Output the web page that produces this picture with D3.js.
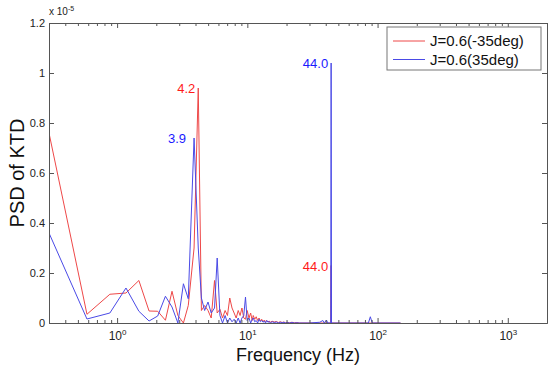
<!DOCTYPE html>
<html>
<head>
<meta charset="utf-8">
<script src="https://cdn.jsdelivr.net/npm/d3@7"></script>
<style>
  body { margin: 0; background: #fff; }
  text { font-family: "Liberation Sans", Arial, sans-serif; }
</style>
</head>
<body>
<div id="chart"></div>
<script>
// frequency bins (Hz) shared by both series
const freqs = [0.3, 0.587, 0.88, 1.17, 1.47, 1.76, 2.05, 2.35, 2.64, 2.93, 3.23, 3.52, 3.9, 4.2,
  4.44, 4.7, 4.99, 5.28, 5.6, 5.87, 6.16, 6.45, 6.75, 7.04, 7.33, 7.63, 7.92, 8.21, 8.51, 8.8,
  9.09, 9.39, 9.68, 9.97, 10.3, 10.6, 10.9, 11.1, 11.4, 11.7, 12.0, 12.3, 12.6, 12.9, 13.2, 13.5,
  13.8, 14.1, 14.4, 14.7, 15.0, 15.5, 16.1, 16.7, 17.3, 17.9, 18.5, 19.1, 19.6, 20.2, 21.1, 22.0,
  23.0, 24.0, 25.0, 30, 36, 38, 39, 40.5, 41.5, 43.7, 44.0, 44.3, 60, 85, 88, 91, 150]

// PSD values, x 1e-5
const psdNeg35 = [0.76, 0.035, 0.115, 0.12, 0.17, 0.048, 0.047, 0.011, 0.127, 0.03, 0.0, 0.07, 0.3, 0.94,
  0.05, 0.07, 0.05, 0.02, 0.17, 0.04, 0.055, 0.02, 0.05, 0.03, 0.1, 0.06, 0.04, 0.02, 0.05, 0.03,
  0.06, 0.02, 0.015, 0.05, 0.02, 0.04, 0.01, 0.03, 0.015, 0.025, 0.01, 0.02, 0.008, 0.015, 0.005, 0.012,
  0.006, 0.01, 0.004, 0.008, 0.003, 0.007, 0.004, 0.006, 0.002, 0.005, 0.002, 0.004, 0.001, 0.003, 0.001, 0.003,
  0.001, 0.002, 0, 0, 0, 0, 0, 0, 0, 0, 0.23, 0, 0, 0, 0, 0, 0]

const psdPos35 = [0.36, 0.016, 0.04, 0.14, 0.047, 0.008, 0.028, 0.107, 0.064, 0.0, 0.157, 0.097, 0.74, 0.3,
  0.1, 0.05, 0.084, 0.04, 0.06, 0.26, 0.03, 0.0, 0.03, 0.0, 0.02, 0.005, 0.015, 0.0, 0.02, 0.0,
  0.02, 0.03, 0.104, 0.01, 0.02, 0.0, 0.015, 0.02, 0.005, 0.01, 0.0, 0.015, 0.005, 0.01, 0.003, 0.008,
  0.0, 0.01, 0.003, 0.006, 0.0, 0.005, 0.002, 0.004, 0.0, 0.003, 0.001, 0.003, 0.0, 0.002, 0.0, 0.002,
  0.0, 0.001, 0, 0, 0.003, 0.01, 0, 0.012, 0, 0, 1.04, 0, 0, 0, 0.025, 0, 0]

const seriesNames = ['J=0.6(-35deg)', 'J=0.6(35deg)']
const seriesColors = ['#ee4848', '#4a4ae6']
const labelColors = ['#ff1a1a', '#1a1aff']

// peak annotations
const peakSeries = [0, 1, 1, 0]
const peakFreqs = [4.2, 3.9, 44.0, 44.0]
const peakVals = [0.94, 0.74, 1.04, 0.23]
const peakTexts = ['4.2', '3.9', '44.0', '44.0']

const yTicks = [0, 0.2, 0.4, 0.6, 0.8, 1, 1.2]
const xTicks = [1, 10, 100, 1000]

const dimensions = {
  width: 550,
  height: 366,
  margin: { top: 23, bottom: 43, right: 3, left: 49 }
}
dimensions.ctrWidth = dimensions.width - dimensions.margin.left - dimensions.margin.right
dimensions.ctrHeight = dimensions.height - dimensions.margin.top - dimensions.margin.bottom

const axisColor = '#555'

const svg = d3.select('#chart')
  .append('svg')
  .attr('width', dimensions.width)
  .attr('height', dimensions.height)

const ctr = svg.append('g')
  .attr('transform', `translate(${dimensions.margin.left}, ${dimensions.margin.top})`)

const xScale = d3.scaleLog()
  .domain([0.3, 2000])
  .range([0, dimensions.ctrWidth])

const yScale = d3.scaleLinear()
  .domain([0, 1.2])
  .range([dimensions.ctrHeight, 0])

ctr.append('clipPath').attr('id', 'clip')
  .append('rect')
  .attr('width', dimensions.ctrWidth)
  .attr('height', dimensions.ctrHeight)

const line = d3.line()
  .x(d => xScale(d[0]))
  .y(d => yScale(d[1]))

const allSeries = [psdNeg35, psdPos35]
ctr.append('g')
  .attr('clip-path', 'url(#clip)')
  .selectAll('path')
  .data(allSeries)
  .join('path')
  .attr('d', vals => line(freqs.map((f, i) => [f, vals[i]])))
  .attr('fill', 'none')
  .attr('stroke', (d, i) => seriesColors[i])
  .attr('stroke-width', 1)

// ticks: major + log minor, drawn inward on all four sides
const minorX = xScale.ticks().filter(t => !xTicks.includes(t))

const bottomAxis = ctr.append('g')
  .attr('transform', `translate(0, ${dimensions.ctrHeight})`)
  .call(d3.axisBottom(xScale).tickValues(xTicks).tickSizeInner(-5).tickSizeOuter(0).tickFormat(''))
ctr.append('g')
  .call(d3.axisTop(xScale).tickValues(xTicks).tickSizeInner(-5).tickSizeOuter(0).tickFormat(''))
ctr.append('g')
  .attr('transform', `translate(0, ${dimensions.ctrHeight})`)
  .call(d3.axisBottom(xScale).tickValues(minorX).tickSizeInner(-3).tickSizeOuter(0).tickFormat(''))
ctr.append('g')
  .call(d3.axisTop(xScale).tickValues(minorX).tickSizeInner(-3).tickSizeOuter(0).tickFormat(''))

const leftAxis = ctr.append('g')
  .call(d3.axisLeft(yScale).tickValues(yTicks).tickSizeInner(-5).tickSizeOuter(0)
    .tickFormat(d => d3.format('~g')(d)).tickPadding(4))
ctr.append('g')
  .attr('transform', `translate(${dimensions.ctrWidth}, 0)`)
  .call(d3.axisRight(yScale).tickValues(yTicks).tickSizeInner(-5).tickSizeOuter(0).tickFormat(''))

ctr.selectAll('.domain').attr('stroke', axisColor)
ctr.selectAll('.tick line').attr('stroke', axisColor)
leftAxis.selectAll('text')
  .attr('fill', '#222')
  .style('font-size', '11px')

// power-of-ten labels under the bottom axis
bottomAxis.selectAll('.tick').each(function(d) {
  const t = d3.select(this).append('text')
    .attr('y', 17)
    .attr('fill', '#222')
    .attr('text-anchor', 'middle')
    .style('font-size', '12px')
  t.append('tspan').text('10')
  t.append('tspan').text(Math.round(Math.log10(d)))
    .attr('dy', -5).style('font-size', '8px')
})

// exponent marker at top-left
const expText = ctr.append('text')
  .attr('x', 0)
  .attr('y', -8)
  .attr('fill', '#222')
  .style('font-size', '10px')
expText.append('tspan').text('x 10')
expText.append('tspan').text('-5').attr('dy', -4).style('font-size', '7px')

// axis titles
ctr.append('text')
  .text('Frequency (Hz)')
  .attr('x', dimensions.ctrWidth / 2)
  .attr('y', dimensions.ctrHeight + 38)
  .attr('text-anchor', 'middle')
  .attr('fill', '#111')
  .style('font-size', '18px')

const textX = -25
const textY = dimensions.ctrHeight / 2
ctr.append('text')
  .text('PSD of  KTD')
  .attr('x', textX)
  .attr('y', textY)
  .attr('text-anchor', 'middle')
  .attr('fill', '#111')
  .style('font-size', '20px')
  .attr('transform', `rotate(270, ${textX}, ${textY})`)

// peak labels
ctr.selectAll('.peak')
  .data(peakTexts)
  .join('text')
  .attr('class', 'peak')
  .text(d => d)
  .attr('x', (d, i) => xScale(peakFreqs[i]) - (peakSeries[i] === 1 && peakFreqs[i] < 10 ? 8 : 3))
  .attr('y', (d, i) => yScale(peakVals[i]) + 5)
  .attr('text-anchor', 'end')
  .attr('fill', (d, i) => labelColors[peakSeries[i]])
  .style('font-size', '13px')

// legend
const legend = ctr.append('g')
  .attr('transform', `translate(${dimensions.ctrWidth - 160}, 4)`)
legend.append('rect')
  .attr('width', 154)
  .attr('height', 43)
  .attr('fill', '#fff')
  .attr('stroke', '#777')
const items = legend.selectAll('.item')
  .data(seriesNames)
  .join('g')
  .attr('transform', (d, i) => `translate(0, ${14 + i * 18.5})`)
items.append('line')
  .attr('x1', 6).attr('x2', 38)
  .attr('stroke', (d, i) => seriesColors[i])
items.append('text')
  .text(d => d)
  .attr('x', 43)
  .attr('y', 5)
  .attr('fill', '#111')
  .style('font-size', '15px')
</script>
</body>
</html>
